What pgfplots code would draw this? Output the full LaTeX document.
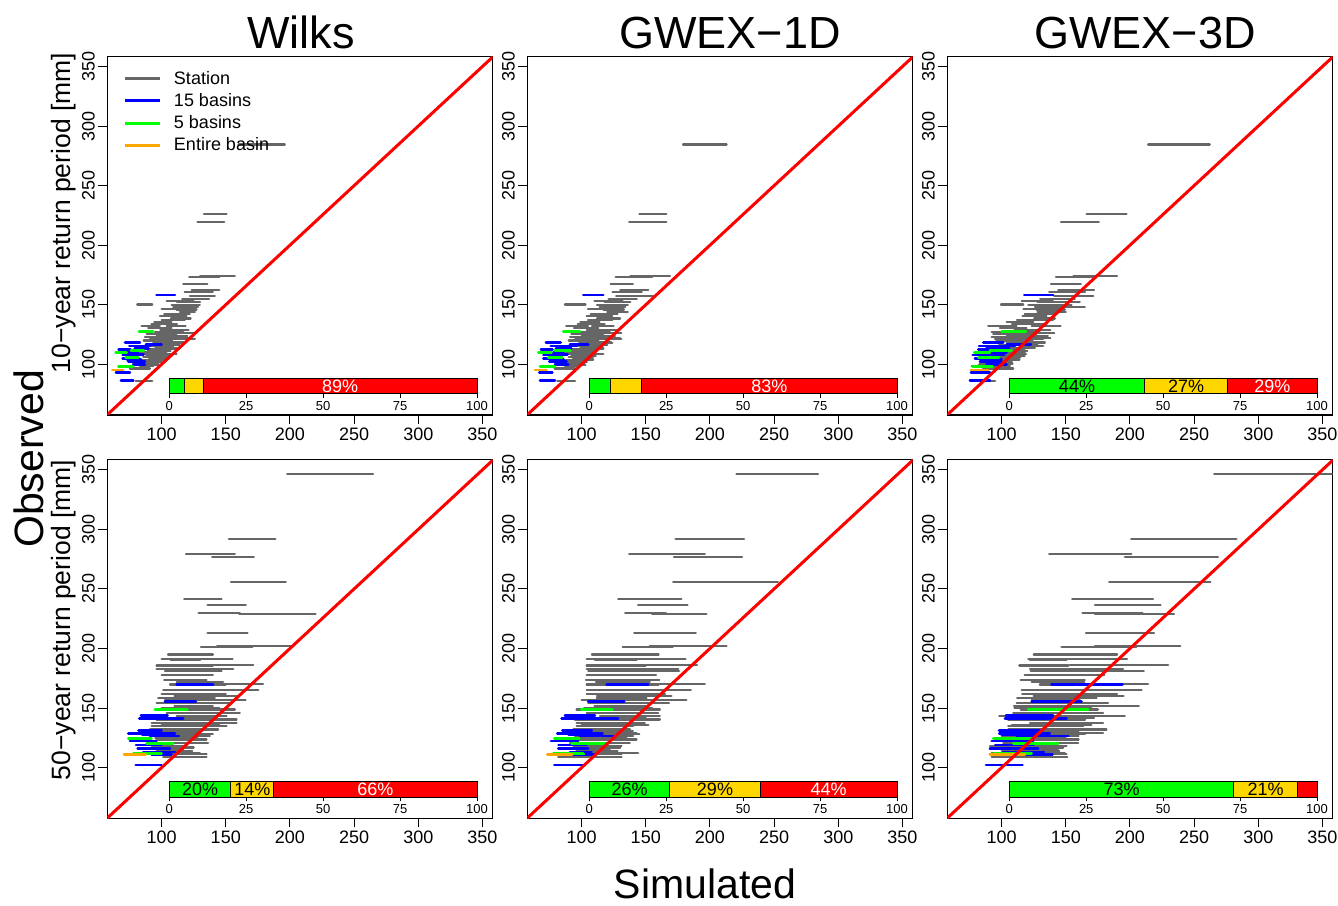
\documentclass[border=0pt]{standalone}
\usepackage{pgfplots}
\pgfplotsset{compat=1.18}
\usepackage{pgfplotstable}
\usepackage{fontspec}
\setmainfont{Liberation Sans}

\definecolor{stgray}{RGB}{102,102,102}
\definecolor{bblue}{RGB}{0,0,255}
\definecolor{bgreen}{RGB}{0,255,0}
\definecolor{borange}{RGB}{255,165,0}
\definecolor{bgold}{RGB}{255,215,0}
\definecolor{bred}{RGB}{255,0,0}

\newcommand\ticksize{\fontsize{18}{20}\selectfont}
\newcommand\insetsize{\fontsize{13}{15}\selectfont}
\newcommand\pctsize{\fontsize{18}{20}\selectfont}

\pgfplotsset{
  grayseg/.style={stgray, line width=2.2pt, line cap=round},
  blueseg/.style={bblue, line width=2.6pt, line cap=round},
  greenseg/.style={bgreen, line width=2.6pt, line cap=round},
  orangeseg/.style={borange, line width=2.6pt, line cap=round},
  mainax/.style={scale only axis, width=385.4pt, height=358.5pt,
    xmin=57.7, xmax=358, ymin=57.5, ymax=358.4,
    xtick={100,150,200,250,300,350}, ytick={100,150,200,250,300,350},
    tick align=outside, tick pos=left, major tick length=9pt,
    tick style={black, line width=1pt}, axis line style={line width=1.1pt},
    /pgf/number format/assume math mode=true,
    tick label style={font=\ticksize},
    yticklabel style={rotate=90, anchor=south},
    anchor=south west},
  insetax/.style={scale only axis, width=307.7pt, height=15.8pt,
    xmin=0, xmax=100, ymin=0, ymax=1, xbar stacked, bar width=15.8pt,
    ytick=\empty, xtick={0,25,50,75,100},
    tick align=outside, tick pos=left, major tick length=4pt,
    tick style={black, line width=0.8pt}, axis line style={line width=1pt},
    /pgf/number format/assume math mode=true,
    tick label style={font=\insetsize},
    anchor=south west, clip=false},
}

% y  Wilks(lo hi)  GWEX-1D(lo hi)  GWEX-3D(lo hi)
\pgfplotstableread{
y wlo whi glo ghi tlo thi
284.6 160 196 179 213 214.2 262.2
226.5 133 150.6 145 166 166.2 197.3
219.8 128 148.8 137 166 146.2 175.8
173.5 121.5 145 126.5 155 142.3 172
174.0 130 157 138 169 156 190
167.3 116.9 135.6 122.6 140 138.4 161.8
162.3 123.4 144.9 130 152 144.1 172.1
157.3 122 141.5 127 156 141 171.4
153.3 104 125 110 132 115.6 140
152.5 112 130 118 138 128 161
150.3 81 92.7 87 103 99.5 116.9
150.0 107.8 129.8 112 136 120.8 154.5
148.3 109 128.5 114 134 126 164.9
146.1 111.7 127.2 117 133 127.2 149.3
144.1 114.3 126 120 136 128 150
140.8 98.7 119.5 104 124 116.3 135
138.5 107.3 122.6 112 130 125.4 141.5
135.8 94.3 107.8 99 114 103.9 124.7
132.1 84.4 98.7 88 105 89.6 111.7
132.4 103.9 118.7 108 125 123.4 145.9
130.2 89.6 107.8 94 113 98.7 119.5
127.4 94.8 116.9 99 122 92.2 129.8
125.4 88.3 111.7 92 117 93.5 127.2
123.2 87 114.3 91 120 92.2 132.4
121.0 90.9 126 95 131 94.8 132.4
119.0 93.5 116.9 98 123 103.9 133.7
117.6 98.7 118.2 104 124 105 133.7
115.4 85.7 109.1 90 114 116.9 132.4
112.8 80.5 111.7 84 117 88 118
110.6 83.1 103.9 87 109 83.1 118.2
108.7 78 111.7 82 117 82 119
105.9 85.7 103.9 90 109 83.1 114.8
103.6 80.5 101.3 84 106 85.7 111
100.8 78 97.4 82 102 83.1 108.5
98.6 83.1 93.5 87 98 76.6 106.5
96.6 75.3 90.9 79 95 85.7 109.1
86.3 79.8 92.7 81 95 82 95
142.5 102 122 107 128 118 142
137.0 100 118 105 124 112 140
134.0 92 112 97 118 108 135
129.0 99 121 104 127 110 138
126.0 103 126 108 131 113 141
124.0 96 120 100 126 104 136
122.0 100 124 104 130 108 138
120.0 86 108 90 113 96 124
116.0 92 114 96 120 98 128
114.0 95 112 99 117 100 126
111.5 89 107 93 112 92 120
107.0 88 106 92 111 90 118
104.0 90 104 93 109 88 114
102.0 82 100 86 104 84 108
99.5 84 99 87 103 82 106
146.8 100 120 105 126 117 145
160.5 118 140 124 147 137 165
155.0 116 137 121 143 130 157
}\grayA

\pgfplotstableread{
y wlo whi glo ghi tlo thi
158.1 96 110.4 101.3 116.9 117.6 140.2
118.4 71.5 83.1 72.2 83.7 85.7 101.3
116.8 87.8 100 90.9 105.2 103.9 122.8
115.4 74.8 90.9 75.9 96.1 82.4 110.4
112.6 66.5 75.9 68.3 77.4 81.8 96.1
110.0 72.8 81.8 77.9 85.7 79.2 103.9
107.7 69.6 80.5 70.2 80.5 77.4 90.9
105.0 69.6 80.5 70.2 83.1 79.2 97.4
102.2 74 87 74.8 88.3 83.1 100
100.0 77.9 87 79.2 89.6 88.3 103.9
93.3 64.4 75.3 67 77.2 76.1 90.9
86.3 68.3 78 67.6 79.2 75.3 90.9
113.5 79 90 80 92 88 106
104.0 73 84 75 86 84 100
108.5 75 86 77 89 85 102
}\blueA

\pgfplotstableread{
y wlo whi glo ghi tlo thi
127.4 82.4 93.5 85.7 98.7 100 118.9
111.7 76.1 86.2 79.2 91.4 90.9 107.8
110.0 64.2 72.8 66.3 76.6 78.7 90.9
98.0 66.3 77.9 67.6 79.2 77.4 93
106.0 72 82 74 85 82 98
}\greenA

\pgfplotstableread{
y wlo whi glo ghi tlo thi
95.3 61.6 70.2 63.7 72.8 75.9 89.6
}\orangeA

\pgfplotstableread{
y wlo whi glo ghi tlo thi
346.6 197.8 264.8 220.7 284.2 265.6 370
292.2 152.4 188.7 173.2 226.6 201 283
279.0 119 157.1 137 196 137 201
276.5 139.4 171.9 171.9 225 196 268.7
256.1 154 196.8 171.4 253 183.8 262.7
241.6 117.6 146.7 128.5 177.8 155 218
236.3 135.8 165.7 144 182.5 172.7 223.8
229.6 128.8 161 134 165.6 163 209.8
229.0 160.5 220 155 197.3 172.7 234.4
213.1 135.8 167 141 189 165.7 218.8
201.4 130.6 170.8 132 171 146.7 205
202.0 143.3 200.7 153 213 172.7 239.3
191.3 100 155.3 103.9 181 120.8 197.8
190.2 107 130 110.4 142.8 122 150.6
185.7 96.1 140 103.9 150 113.8 152
186.0 140 171.4 150 190 153 229.8
183.0 96.1 155.8 103.9 175.3 122 194.7
181.0 102.6 146.7 105.2 176 122.6 210.8
173.5 102 135 103.4 160.5 114.8 164.9
172.0 111.7 148 111.2 153.2 123.4 164.4
169.8 106.5 150 103.9 160 129.8 180
170.3 140 179 150 196 160 214.2
165.0 101.3 175.3 103.9 185.1 115.6 209
158.7 97.4 141.5 111.7 150.6 112.2 174
156.7 102.6 165.4 100 181.7 123.4 161
154.5 96.1 154.5 105.2 168.2 111.7 183
151.7 110 140 110 150 109.6 206.9
148.9 98.7 157.1 96.1 161 115 175
146.1 103.9 161 103.9 159.7 109 179
143.3 111.7 150.6 114.3 161 98.2 196
140.5 96.1 158.4 94.8 161 105 165
137.7 92.2 158.4 96.1 149.3 122.1 179
134.9 92.2 150.6 96.1 140.2 105.2 163.6
132.1 90.9 144.1 93.5 137.6 105.2 181.7
129.3 92.2 129.8 98.7 142.8 103.9 179
126.5 93.5 137.6 94.8 140.2 100 160
123.7 96.1 135 97.4 142.8 95 160
120.9 93.5 136.3 90.9 137.6 101.3 159.7
118.2 97.4 119.5 93.5 131.1 90.9 150.6
115.4 85.7 116.9 83.1 122.1 90.9 144.1
112.6 98.7 129.8 96.1 144.1 92.2 149.3
111.2 88.3 135 90.9 131.1 90.9 150.6
109.2 101.3 135 81.8 131.1 92.2 151.2
195.0 105 140 108 160 125 190
178.0 100 140 104 158 118 180
162.0 100 150 104 165 116 190
160.0 110 160 112 170 125 195
150.0 100 145 102 155 110 170
142.0 98 140 100 150 106 172
136.0 100 145 100 152 108 170
131.0 96 130 98 140 102 160
128.0 100 140 100 145 106 165
125.0 95 128 96 135 100 150
117.0 92 125 94 130 96 148
114.0 96 124 96 128 100 145
}\grayB

\pgfplotstableread{
y wlo whi glo ghi tlo thi
169.8 111.7 140.2 119.5 151.9 138.9 194.2
155.3 102.6 126.7 105.2 133.2 123.4 162.3
143.8 83.9 104.7 87 110.4 103.4 140.2
141.1 82.6 116.9 84.4 128.5 102.6 150.6
128.8 74 110.4 81 116.3 98.2 137.6
126.5 90.9 113.5 98.7 124.7 111.7 151.9
122.3 75.3 96.1 76.1 97.4 92.2 124.7
115.9 81.3 106.5 81.8 105.2 90.9 128.5
113.1 85.7 110.4 90.9 107.8 101.3 133
111.2 92.2 107.8 92.2 110.4 103.9 139.7
102.2 79.8 100 78.7 101.3 87.8 116.3
127.5 85 105 90 112 100 135
119.0 80 100 82 104 95 125
131.0 82 100 85 108 98 130
}\blueB

\pgfplotstableread{
y wlo whi glo ghi tlo thi
148.9 94.8 120.2 99.5 124.1 120.8 167.5
124.3 74 92.2 78.7 98.2 93.5 123.4
120.4 88.3 109.1 92.2 118.2 109.1 144.1
112.0 78 100 78 101.3 93.5 123.4
111.6 84.4 98.7 86 102 95 123
}\greenB

\pgfplotstableread{
y wlo whi glo ghi tlo thi
111.2 70.7 87.5 73.3 92.7 90.9 118.2
}\orangeB

% #1 gray, #2 blue, #3 green, #4 orange, #5 model prefix (w, g, t)
\newcommand\segs[5]{%
  \addplot[grayseg, forget plot, quiver={u=\thisrow{#5hi}-\thisrow{#5lo}, v=0}] table[x=#5lo, y=y]{#1};
  \addplot[blueseg, forget plot, quiver={u=\thisrow{#5hi}-\thisrow{#5lo}, v=0}] table[x=#5lo, y=y]{#2};
  \addplot[greenseg, forget plot, quiver={u=\thisrow{#5hi}-\thisrow{#5lo}, v=0}] table[x=#5lo, y=y]{#3};
  \addplot[orangeseg, forget plot, quiver={u=\thisrow{#5hi}-\thisrow{#5lo}, v=0}] table[x=#5lo, y=y]{#4};
  \addplot[bred, line width=3pt, forget plot] coordinates {(40,40) (380,380)};
}

% #1 position, #2 green, #3 yellow, #4 red, #5/#6/#7 labels (green, yellow, red)
\newcommand\inset[7]{%
  \begin{axis}[insetax, at={(#1)}]
    \addplot[fill=bgreen, draw=black, line width=1pt] coordinates {(#2,0.5)};
    \addplot[fill=bgold, draw=black, line width=1pt] coordinates {(#3,0.5)};
    \addplot[fill=bred, draw=black, line width=1pt] coordinates {(#4,0.5)};
    \coordinate (LG) at (axis cs:{#2/2},0.5);
    \coordinate (LY) at (axis cs:{#2+#3/2},0.5);
    \coordinate (LR) at (axis cs:{#2+#3+#4/2},0.5);
  \end{axis}
  \node[black, font=\pctsize] at (LG) {#5};
  \node[black, font=\pctsize] at (LY) {#6};
  \node[white, font=\pctsize] at (LR) {#7};}

\begin{document}
\begin{tikzpicture}
\useasboundingbox (0pt,0pt) rectangle (1338pt,905pt);

% ---------- row 1 ----------
\begin{axis}[mainax, at={(107.3pt,490pt)},
  legend style={draw=none, fill=none, at={(0.035,0.97)}, anchor=north west,
    font=\fontsize{18}{20}\selectfont, row sep=3.6pt, nodes={inner sep=2pt},
    /tikz/every odd column/.append style={column sep=10pt}},
  legend cell align=left,
  legend image code/.code={\draw[#1, line cap=butt] (0pt,0pt) -- (35pt,0pt);}]
  \addlegendimage{stgray, line width=3pt}\addlegendentry{Station}
  \addlegendimage{bblue, line width=3pt}\addlegendentry{15 basins}
  \addlegendimage{bgreen, line width=3pt}\addlegendentry{5 basins}
  \addlegendimage{borange, line width=3pt}\addlegendentry{Entire basin}
  \segs{\grayA}{\blueA}{\greenA}{\orangeA}{w}
\end{axis}
\inset{169.3pt,511pt}{5}{6}{89}{}{}{89\%}

\begin{axis}[mainax, at={(527.3pt,490pt)}]
  \segs{\grayA}{\blueA}{\greenA}{\orangeA}{g}
\end{axis}
\inset{589.3pt,511pt}{7}{10}{83}{}{}{83\%}

\begin{axis}[mainax, at={(947.3pt,490pt)}]
  \segs{\grayA}{\blueA}{\greenA}{\orangeA}{t}
\end{axis}
\inset{1009.3pt,511pt}{44}{27}{29}{44\%}{27\%}{29\%}

% ---------- row 2 ----------
\begin{axis}[mainax, at={(107.3pt,86.7pt)}]
  \segs{\grayB}{\blueB}{\greenB}{\orangeB}{w}
\end{axis}
\inset{169.3pt,107.7pt}{20}{14}{66}{20\%}{14\%}{66\%}

\begin{axis}[mainax, at={(527.3pt,86.7pt)}]
  \segs{\grayB}{\blueB}{\greenB}{\orangeB}{g}
\end{axis}
\inset{589.3pt,107.7pt}{26.2}{29.3}{44.5}{26\%}{29\%}{44\%}

\begin{axis}[mainax, at={(947.3pt,86.7pt)}]
  \segs{\grayB}{\blueB}{\greenB}{\orangeB}{t}
\end{axis}
\inset{1009.3pt,107.7pt}{73}{20.6}{6.4}{73\%}{21\%}{}

% ---------- titles and outer labels ----------
\node[anchor=base, font=\fontsize{45}{50}\selectfont] at (301pt,856.7pt) {Wilks};
\node[anchor=base, font=\fontsize{45}{50}\selectfont] at (730pt,856.7pt) {GWEX−1D};
\node[anchor=base, font=\fontsize{45}{50}\selectfont] at (1145pt,856.7pt) {GWEX−3D};
\node[anchor=base, font=\fontsize{41}{46}\selectfont] at (705pt,7pt) {Simulated};
\node[anchor=base, rotate=90, font=\fontsize{41}{46}\selectfont] at (43pt,446pt) {Observed};
\node[anchor=base, rotate=90, font=\fontsize{26.5}{30}\selectfont] at (70pt,692pt) {10−year return period [mm]};
\node[anchor=base, rotate=90, font=\fontsize{26.5}{30}\selectfont] at (70pt,285pt) {50−year return period [mm]};
\end{tikzpicture}
\end{document}
